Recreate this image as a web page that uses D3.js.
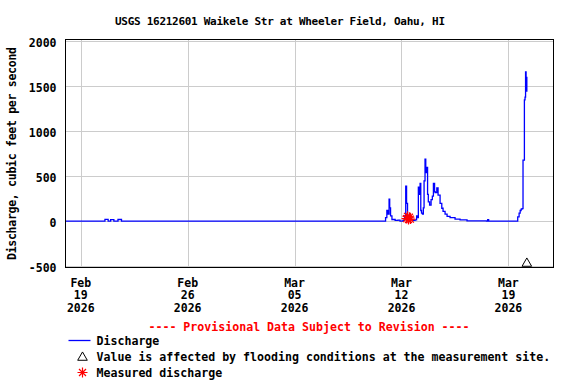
<!DOCTYPE html>
<html>
<head>
<meta charset="utf-8">
<script src="https://cdn.jsdelivr.net/npm/d3@7"></script>
<style>
  body{margin:0;background:#fff;}
  text{font-family:"DejaVu Sans Mono",monospace;font-weight:bold;fill:#000;}
</style>
</head>
<body>
<div class="chart"></div>
<script>
// discharge series (cfs)
const times = [
  "2026-02-18 00:00","2026-02-20 13:00","2026-02-20 14:00","2026-02-20 18:00","2026-02-20 19:00",
  "2026-02-20 23:00","2026-02-21 03:00","2026-02-21 04:00","2026-02-21 10:30","2026-02-21 15:00",
  "2026-02-21 16:00","2026-03-10 21:00","2026-03-10 23:00","2026-03-11 01:00","2026-03-11 03:00",
  "2026-03-11 04:30","2026-03-11 05:30","2026-03-11 06:50","2026-03-11 09:00","2026-03-11 14:00",
  "2026-03-11 18:30","2026-03-11 21:40","2026-03-12 02:20","2026-03-12 04:50","2026-03-12 06:40",
  "2026-03-12 08:00","2026-03-12 09:30","2026-03-12 12:00","2026-03-12 15:00","2026-03-12 18:00",
  "2026-03-12 21:20","2026-03-12 23:45","2026-03-13 01:00","2026-03-13 02:30","2026-03-13 03:40",
  "2026-03-13 05:15","2026-03-13 06:20","2026-03-13 07:30","2026-03-13 09:00","2026-03-13 10:20",
  "2026-03-13 11:30","2026-03-13 13:00","2026-03-13 14:10","2026-03-13 15:40","2026-03-13 17:00",
  "2026-03-13 18:10","2026-03-13 20:10","2026-03-13 22:30","2026-03-14 00:30","2026-03-14 02:10",
  "2026-03-14 04:00","2026-03-14 04:50","2026-03-14 07:30","2026-03-14 09:30","2026-03-14 12:40",
  "2026-03-14 15:20","2026-03-14 17:20","2026-03-14 20:30","2026-03-14 23:40","2026-03-15 04:20",
  "2026-03-15 12:10","2026-03-15 20:00","2026-03-16 07:00","2026-03-17 13:40","2026-03-17 15:30",
  "2026-03-17 17:00","2026-03-19 13:40","2026-03-19 14:40","2026-03-19 16:50","2026-03-19 18:30",
  "2026-03-19 20:00","2026-03-19 21:30","2026-03-19 23:00","2026-03-20 01:10","2026-03-20 02:10",
  "2026-03-20 03:00","2026-03-20 03:50","2026-03-20 04:20","2026-03-20 05:00"
];
const discharge = [
  2,2,22,22,3,
  18,18,3,20,20,
  2,2,40,120,80,
  245,150,60,20,10,
  12,3,10,60,390,
  200,60,30,20,10,
  15,60,40,380,300,
  420,120,90,80,150,
  450,690,540,600,300,
  215,180,240,280,420,
  330,320,370,290,200,
  145,110,80,55,40,
  25,15,5,3,18,
  3,3,50,90,120,
  135,140,680,1350,1380,
  1660,1450,1600,1440
];

// field measurements
const measuredTimes = ["2026-03-12 08:00","2026-03-12 09:30","2026-03-12 11:00","2026-03-12 12:30","2026-03-12 14:00"];
const measuredValues = [30,55,20,45,25];

// flagged values (flooding at the site), drawn on the bottom edge
const floodTimes = ["2026-03-20 05:00"];

const yTicks = [-500,0,500,1000,1500,2000];
const xTicks = ["2026-02-19 00:00","2026-02-26 00:00","2026-03-05 00:00","2026-03-12 00:00","2026-03-19 00:00"];
const xDomain = ["2026-02-18 00:00","2026-03-22 00:00"];

const parse = d3.timeParse("%Y-%m-%d %H:%M");
const width = 576, height = 384;
const plotLeft = 65.5, plotRight = 553.5, plotTop = 39.5, plotBottom = 267.5;

const svg = d3.select(".chart").append("svg").attr("width",width).attr("height",height);

const x = d3.scaleTime().domain(xDomain.map(parse)).range([65.5,554.2]);
const y = d3.scaleLinear().domain([-500,2000]).range([266.3,41.3]);

// grid
svg.append("g").selectAll("line")
    .data(yTicks)
    .join("line")
    .attr("x1",plotLeft).attr("x2",plotRight)
    .attr("y1",d=>Math.round(y(d))+0.5).attr("y2",d=>Math.round(y(d))+0.5)
    .attr("stroke","#cccccc");
svg.append("g").selectAll("line")
    .data(xTicks)
    .join("line")
    .attr("x1",d=>Math.round(x(parse(d)))+0.5).attr("x2",d=>Math.round(x(parse(d)))+0.5)
    .attr("y1",plotTop).attr("y2",plotBottom)
    .attr("stroke","#cccccc");

// y tick labels
svg.append("g").selectAll("text")
    .data(yTicks)
    .join("text")
    .attr("x",56.5)
    .attr("y",d=>y(d)+5.5)
    .attr("text-anchor","end")
    .style("font-size","11.5px")
    .text(d=>d);

// x tick labels, three lines each
const fmt = [d3.timeFormat("%b"),d3.timeFormat("%d"),d3.timeFormat("%Y")];
const baselines = [286.5,299,311.5];
const xl = svg.append("g").selectAll("text")
    .data(xTicks)
    .join("text")
    .attr("text-anchor","middle")
    .style("font-size","11.5px");
xl.selectAll("tspan")
    .data(d=>fmt.map((f,i)=>({t:f(parse(d)),x:x(parse(d)),y:baselines[i]})))
    .join("tspan")
    .attr("x",d=>d.x)
    .attr("y",d=>d.y)
    .text(d=>d.t);

// discharge line
const pts = times.map((t,i)=>[parse(t),discharge[i]]);
const line = d3.line().x(d=>x(d[0])).y(d=>y(d[1])).curve(d3.curveStepAfter);
svg.append("path")
    .datum(pts)
    .attr("d",line)
    .attr("fill","none")
    .attr("stroke","#0000ff")
    .attr("stroke-width",1.3);

// 8-armed asterisk like the USGS plot marker
const starPath = "M-5,0H5M0,-5V5M-3.5,-3.5L3.5,3.5M-3.5,3.5L3.5,-3.5";
svg.append("g").selectAll("path")
    .data(measuredTimes.map((t,i)=>[parse(t),measuredValues[i]]))
    .join("path")
    .attr("d",starPath)
    .attr("transform",d=>`translate(${x(d[0])},${y(d[1])})`)
    .attr("fill","none")
    .attr("stroke","#ff0000")
    .attr("stroke-width",1.2);

// flood flag triangles on the bottom edge
const tri = d3.symbol().type(d3.symbolTriangle).size(40);
svg.append("g").selectAll("path")
    .data(floodTimes.map(parse))
    .join("path")
    .attr("d",tri)
    .attr("transform",d=>`translate(${x(d)},${plotBottom-4})`)
    .attr("fill","#fff")
    .attr("stroke","#000")
    .attr("stroke-width",1);

// frame
svg.append("rect")
    .attr("x",plotLeft).attr("y",plotTop)
    .attr("width",plotRight-plotLeft).attr("height",plotBottom-plotTop)
    .attr("fill","none")
    .attr("stroke","#000")
    .attr("stroke-width",1);

// title and axis title
svg.append("text")
    .attr("x",280).attr("y",25)
    .attr("text-anchor","middle")
    .attr("textLength",330)
    .style("font-size","11px")
    .text("USGS 16212601 Waikele Str at Wheeler Field, Oahu, HI");
svg.append("text")
    .attr("transform","translate(15.5,153.5) rotate(-90)")
    .attr("text-anchor","middle")
    .attr("textLength",213)
    .style("font-size","11.5px")
    .text("Discharge, cubic feet per second");

// provisional note
svg.append("text")
    .attr("x",309).attr("y",331)
    .attr("text-anchor","middle")
    .style("font-size","11.6px")
    .style("fill","#ff0000")
    .text("---- Provisional Data Subject to Revision ----");

// legend
const legendItems = ["Discharge","Value is affected by flooding conditions at the measurement site.","Measured discharge"];
const legendY = [345,361,377];
svg.append("g").selectAll("text")
    .data(legendItems)
    .join("text")
    .attr("x",96.5)
    .attr("y",(d,i)=>legendY[i])
    .style("font-size","11.6px")
    .text(d=>d);
svg.append("line")
    .attr("x1",68.5).attr("x2",90.5)
    .attr("y1",340.5).attr("y2",340.5)
    .attr("stroke","#0000ff").attr("stroke-width",1.3);
svg.append("path")
    .attr("d",tri)
    .attr("transform","translate(82.5,357.5)")
    .attr("fill","#fff").attr("stroke","#000");
svg.append("path")
    .attr("d",starPath)
    .attr("transform","translate(82.5,372.5)")
    .attr("fill","none").attr("stroke","#ff0000").attr("stroke-width",1.2);
</script>
</body>
</html>
